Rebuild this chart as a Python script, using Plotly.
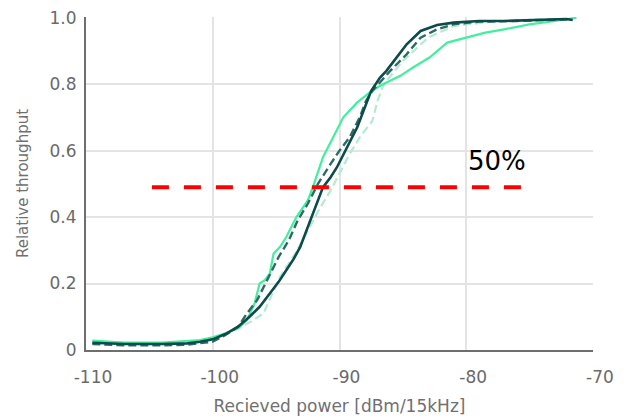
import plotly.graph_objects as go

# ---- data ----
dark_solid_x = [-109.5, -107, -104, -102, -101, -100, -99, -98, -97.1, -96.3, -95.5, -94.8, -94.2, -93.6,
                -93.1, -92.3, -91.7, -91.3, -90.7, -90.2, -89.4, -88.6, -88.0, -87.5, -86.8, -86.3, -85.7,
                -84.7, -83.6, -82.3, -81.0, -79, -77, -75, -73, -72.1, -71.6]
dark_solid_y = [0.022, 0.018, 0.018, 0.02, 0.025, 0.032, 0.048, 0.07, 0.10, 0.13, 0.17, 0.205, 0.24, 0.275,
                0.31, 0.39, 0.45, 0.49, 0.52, 0.55, 0.61, 0.67, 0.73, 0.78, 0.82, 0.84, 0.87,
                0.92, 0.96, 0.978, 0.985, 0.99, 0.99, 0.993, 0.996, 0.996, 0.993]

green_x = [-109.5, -107, -104, -102, -101, -100, -99, -98, -97.3, -96.7, -96.3, -95.9, -95.5, -95.2, -94.7,
           -94.2, -93.4, -92.5, -92.1, -91.3, -90.5, -89.7, -88.6, -87.6, -86.8, -86.0, -85.2, -84.2, -82.9,
           -81.5, -80.0, -78.5, -77.0, -75.0, -73, -71.3]
green_y = [0.028, 0.022, 0.022, 0.028, 0.03, 0.038, 0.05, 0.065, 0.09, 0.14, 0.20, 0.21, 0.23, 0.29, 0.31,
           0.34, 0.40, 0.45, 0.49, 0.58, 0.64, 0.70, 0.745, 0.775, 0.795, 0.81, 0.825, 0.85, 0.88,
           0.925, 0.94, 0.955, 0.965, 0.98, 0.99, 1.0]

dark_dash_x = [-109.5, -107, -104, -102, -100, -99, -98, -97.3, -96.5, -95.7, -94.8, -94.0, -93.3, -92.5,
               -91.7, -90.7, -90.0, -89.2, -88.4, -87.9, -87.4, -86.0, -84.7, -83.6, -82.3, -81.0, -79,
               -76, -73, -72]
dark_dash_y = [0.018, 0.014, 0.014, 0.016, 0.025, 0.045, 0.07, 0.11, 0.15, 0.21, 0.28, 0.33, 0.39, 0.44,
               0.50, 0.56, 0.60, 0.64, 0.70, 0.75, 0.78, 0.84, 0.89, 0.94, 0.965, 0.98, 0.988,
               0.99, 0.994, 0.995]

light_dash_x = [-109.5, -104, -100, -98, -97, -96, -94.7, -93.5, -92.5, -91.5, -90.7, -89.2, -88.4, -87.4,
                -87.0, -86.5, -85, -83, -81, -78, -74, -72]
light_dash_y = [0.02, 0.018, 0.03, 0.065, 0.085, 0.11, 0.22, 0.29, 0.36, 0.43, 0.48, 0.59, 0.64, 0.69,
                0.75, 0.80, 0.87, 0.94, 0.975, 0.988, 0.995, 0.996]

ref_x = [-104.8, -75.2]
ref_y = [0.49, 0.49]
ref_label = "50%"
ref_label_pos = (-77.6, 0.57)

x_ticks = [-110, -100, -90, -80, -70]
y_ticks = [0, 0.2, 0.4, 0.6, 0.8, 1.0]
y_tick_text = ["0", "0.2", "0.4", "0.6", "0.8", "1.0"]

FONT = "DejaVu Sans, Liberation Sans, Arial"

fig = go.Figure()
fig.add_trace(go.Scatter(x=light_dash_x, y=light_dash_y, mode="lines",
                         line=dict(color="#b2ead2", width=2.2, dash="8px,4px")))
fig.add_trace(go.Scatter(x=green_x, y=green_y, mode="lines",
                         line=dict(color="#44ee9f", width=2.2)))
fig.add_trace(go.Scatter(x=dark_dash_x, y=dark_dash_y, mode="lines",
                         line=dict(color="#2c6a67", width=2.4, dash="8px,4px")))
fig.add_trace(go.Scatter(x=dark_solid_x, y=dark_solid_y, mode="lines",
                         line=dict(color="#0d4b4b", width=2.6)))
fig.add_trace(go.Scatter(x=ref_x, y=ref_y, mode="lines",
                         line=dict(color="#ff0000", width=4, dash="17px,15px")))

fig.add_annotation(x=ref_label_pos[0], y=ref_label_pos[1], text=ref_label, showarrow=False,
                   font=dict(family=FONT, size=26, color="#000000"))

fig.update_layout(
    width=627, height=419,
    margin=dict(l=78, r=42, t=9, b=77),
    paper_bgcolor="white", plot_bgcolor="white",
    showlegend=False,
    font=dict(family=FONT, size=17, color="#6a6a6a"),
)
fig.update_xaxes(range=[-110, -70], tickvals=x_ticks, ticktext=[str(v) for v in x_ticks],
                 showgrid=True, gridcolor="#e4e4e4", gridwidth=1.5,
                 showline=True, linecolor="#6e6e6e", linewidth=2,
                 ticks="outside", ticklen=11, tickcolor="rgba(0,0,0,0)",
                 ticklabelshift=7, ticklabeloverflow="allow", automargin=False,
                 zeroline=False,
                 title=dict(text="Recieved power [dBm/15kHz]", font=dict(size=17, color="#707070"),
                            standoff=14))
fig.update_yaxes(range=[0, 1.002], tickvals=y_ticks, ticktext=y_tick_text,
                 showgrid=True, gridcolor="#e4e4e4", gridwidth=1.5,
                 showline=True, linecolor="#6e6e6e", linewidth=2,
                 ticks="outside", ticklen=4, tickcolor="rgba(0,0,0,0)",
                 ticklabeloverflow="allow", automargin=False,
                 zeroline=False,
                 title=dict(text="Relative throughput", font=dict(size=15, color="#707070"),
                            standoff=17))

fig.write_html("out.html")
